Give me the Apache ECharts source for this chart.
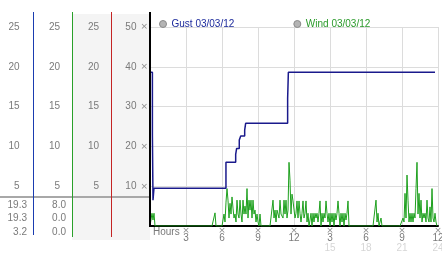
<!DOCTYPE html>
<html><head><meta charset="utf-8">
<script src="https://cdn.jsdelivr.net/npm/echarts@6/dist/echarts.min.js"></script>
<style>html,body{margin:0;padding:0;background:#fff}#c{width:442px;height:253px}</style>
</head><body><div id="c"></div>
<script>
const seriesNames = ['Gust 03/03/12', 'Wind 03/03/12'];
// Gust: hour at which the value changes, and the new value
const gustTimes  = [0, 0.2, 0.25, 0.33, 6.33, 7.14, 7.22, 7.44, 7.56, 7.89, 7.97, 11.47, 11.53, 23.75];
const gustValues = [38.6, 23, 6.5, 9.5, 16, 18, 19.5, 21.6, 22.6, 24.1, 25.8, 32, 38.6, 38.6];
// Wind: one value every 5 minutes (12 per hour), hour by hour
const windValues = [
  0,0,3.2,1.5,3.2,0,0,0,0,0,0,0,
  0,0,0,0,0,0,0,0,0,0,0,0,
  0,0,0,0,0,0,0,0,0,0,0,0,
  0,0,0,0,0,0,0,0,0,0,0,0,
  0,0,0,0,0,0,0,0,0,0,0,0,
  0,0,0,0,0,3.3,0,0,0,0,0,0,
  0,0,3,1,6,9.4,6.5,2,5.7,3,7.3,4.5,
  2,3,1,6.5,3,2,6.5,3,1,6.5,3,5,
  3,9.4,2,6.5,4,6.5,2,6.5,3,4,1,3,
  1,0,3,0,0,0,0,0,0,0,0,0,
  0,0,0,6.5,2,4,1,4,3,2,6.5,3,
  3,2,6.5,3,6.5,2,4,16,11.5,3,8,6.3,
  6.3,2,3.2,6.3,2,6.3,3.2,1,3.2,6.3,2,3.2,
  6.3,1,3.2,0,1.5,3.2,0,3.2,1,3.2,2,3.2,
  1,3.2,6.3,0,3.2,1,3.2,2,6.3,3.2,1,3.2,
  0,3.2,1,3.2,0,3.2,1.5,3.2,6.3,3.2,0,3.2,
  1,3.2,0,3.2,1.5,3.2,6.3,0,0,0,0,0,
  0,0,0,0,0,0,0,0,0,0,0,0,
  0,0,0,0,0,0,0,0,0,0,6.5,1,
  3.2,0,0,2,0,0,0,0,0,0,0,0,
  0,0,0,0,0,0,0,0,0,0,0,0,
  0,2,1,8.2,2,12.8,6.5,1,3.2,1,3.2,1,
  3.2,2,9.4,16,3,8.2,2,6.5,1,3.2,2,3.2,
  1,6.5,2,1,4.8,1,9.4,2,1,3.2,1,0
];
const hourLabels  = ['Hours', '3', '6', '9', '12', '3', '6', '9', '12'];
const clockLabels = ['', '', '', '', '', '15', '18', '21', '24'];
const gustStats = ['19.3', '19.3', '3.2'];
const windStats = ['8.0', '0.0', '0.0'];

const FONT = 'Liberation Sans';
const GREY = '#7a7a7a';
const MARK = '×';
const chart = echarts.init(document.getElementById('c'));

function sideAxis(offset, margin) {
  return {
    type: 'value', gridIndex: 0, position: 'left', offset: offset,
    min: 0, max: 25, interval: 5,
    axisLine: {show: false}, axisTick: {show: false}, splitLine: {show: false},
    axisLabel: {margin: margin, color: GREY, fontSize: 10, fontFamily: FONT,
      formatter: v => v === 0 ? '' : String(v)}
  };
}

const graphics = [
  {type: 'rect', z: -10, silent: true, shape: {x: 72, y: 14, width: 78, height: 226}, style: {fill: '#f4f4f4'}},
  {type: 'line', silent: true, z: 5, shape: {x1: 33.5, y1: 12, x2: 33.5, y2: 235}, style: {stroke: '#1a3cb0', lineWidth: 1}},
  {type: 'line', silent: true, z: 5, shape: {x1: 72.5, y1: 12, x2: 72.5, y2: 237}, style: {stroke: '#2aa02a', lineWidth: 1}},
  {type: 'line', silent: true, z: 5, shape: {x1: 111.5, y1: 12, x2: 111.5, y2: 237}, style: {stroke: '#c42424', lineWidth: 1}},
  {type: 'line', silent: true, z: 4, shape: {x1: 0, y1: 197, x2: 150, y2: 197}, style: {stroke: '#a8a8a8', lineWidth: 2}},
  {type: 'line', silent: true, z: 10, shape: {x1: 150, y1: 12, x2: 150, y2: 227}, style: {stroke: '#000', lineWidth: 2}},
  {type: 'text', silent: true, x: 153, y: 232, style: {text: 'Hours', fill: GREY, font: '10px ' + FONT, textVerticalAlign: 'middle'}}
];
gustStats.forEach((s, i) => graphics.push({type: 'text', silent: true, x: 27, y: 205 + i * 13.5,
  style: {text: s, fill: GREY, font: '10px ' + FONT, textAlign: 'right', textVerticalAlign: 'middle'}}));
windStats.forEach((s, i) => graphics.push({type: 'text', silent: true, x: 66, y: 205 + i * 13.5,
  style: {text: s, fill: GREY, font: '10px ' + FONT, textAlign: 'right', textVerticalAlign: 'middle'}}));

chart.setOption({
  animation: false,
  backgroundColor: '#fff',
  textStyle: {fontFamily: FONT},
  grid: {left: 150, top: 27, width: 288, height: 199, containLabel: false, outerBoundsMode: 'none'},
  legend: {
    left: 154, top: 14, icon: 'circle', itemWidth: 7, itemHeight: 7, itemGap: 59,
    selectedMode: false,
    textStyle: {fontSize: 10, fontFamily: FONT},
    data: [
      {name: seriesNames[0], itemStyle: {color: '#b4b4b4', borderColor: '#8a8a8a', borderWidth: 1}, textStyle: {color: '#1c2a9c'}},
      {name: seriesNames[1], itemStyle: {color: '#b4b4b4', borderColor: '#8a8a8a', borderWidth: 1}, textStyle: {color: '#2a9a2a'}}
    ]
  },
  xAxis: {
    type: 'value', min: 0, max: 24, interval: 3,
    axisLine: {show: true, lineStyle: {color: '#000', width: 2}},
    axisTick: {show: false},
    splitLine: {show: true, lineStyle: {color: '#dcdcdc', width: 1}},
    axisLabel: {
      margin: 1, showMaxLabel: true, showMinLabel: true,
      formatter: v => {
        if (v === 0) return '';
        const i = Math.round(v / 3);
        let s = '{m|' + MARK + '}\n{n|' + hourLabels[i] + '}';
        if (clockLabels[i]) s += '\n{f|' + clockLabels[i] + '}';
        return s;
      },
      rich: {
        m: {fontSize: 9, lineHeight: 7, color: '#8c8c8c', fontFamily: 'DejaVu Sans'},
        n: {fontSize: 10, lineHeight: 9, color: GREY, fontFamily: FONT},
        f: {fontSize: 10, lineHeight: 11, color: '#d6d6d6', fontFamily: FONT}
      }
    }
  },
  yAxis: [
    {
      type: 'value', min: 0, max: 50, interval: 10,
      axisLine: {show: false}, axisTick: {show: false},
      splitLine: {show: true, lineStyle: {color: '#dcdcdc', width: 1}},
      axisLabel: {
        margin: 2,
        formatter: v => v === 0 ? '' : '{v|' + v + '}{m|' + MARK + '}',
        rich: {
          v: {fontSize: 10, color: GREY, fontFamily: FONT},
          m: {fontSize: 9, color: '#8c8c8c', padding: [0, 0, 0, 4], fontFamily: 'DejaVu Sans'}
        }
      }
    },
    sideAxis(117, 13.5),
    sideAxis(78, 12),
    sideAxis(39, 12)
  ],
  series: [
    {
      name: seriesNames[1], type: 'line', showSymbol: false, z: 2,
      data: windValues.map((v, i) => [i / 12, v]),
      lineStyle: {color: '#1ea01e', width: 1}, itemStyle: {color: '#1ea01e'}
    },
    {
      name: seriesNames[0], type: 'line', showSymbol: false, step: 'end', z: 3,
      data: gustTimes.map((t, i) => [t, gustValues[i]]),
      lineStyle: {color: '#1a1a8c', width: 1.5}, itemStyle: {color: '#1a1a8c'}
    }
  ],
  graphic: graphics
});
</script>
</body></html>
